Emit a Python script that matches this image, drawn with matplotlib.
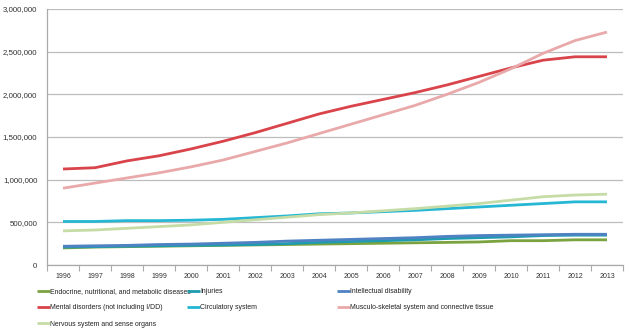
import matplotlib
matplotlib.use("Agg")
import matplotlib.pyplot as plt
from matplotlib.ticker import FuncFormatter, FixedLocator

years = list(range(1996, 2014))

endocrine = [200_000, 210_000, 215_000, 220_000, 225_000, 230_000, 235_000, 240_000, 245_000,
             250_000, 255_000, 260_000, 265_000, 270_000, 285_000, 285_000, 295_000, 295_000]
injuries = [210_000, 215_000, 220_000, 225_000, 230_000, 235_000, 240_000, 250_000, 265_000,
            275_000, 285_000, 295_000, 310_000, 320_000, 330_000, 345_000, 350_000, 350_000]
intellectual = [220_000, 225_000, 230_000, 240_000, 245_000, 255_000, 265_000, 280_000, 290_000,
                300_000, 310_000, 320_000, 335_000, 345_000, 350_000, 355_000, 360_000, 360_000]
mental = [1_125_000, 1_140_000, 1_220_000, 1_280_000, 1_360_000, 1_450_000, 1_550_000, 1_660_000,
          1_770_000, 1_860_000, 1_940_000, 2_020_000, 2_110_000, 2_210_000, 2_310_000, 2_400_000,
          2_440_000, 2_440_000]
circulatory = [510_000, 510_000, 520_000, 520_000, 525_000, 535_000, 555_000, 575_000, 600_000,
               610_000, 625_000, 640_000, 660_000, 680_000, 700_000, 720_000, 740_000, 740_000]
musculo = [900_000, 960_000, 1_020_000, 1_080_000, 1_150_000, 1_230_000, 1_330_000, 1_430_000,
           1_540_000, 1_650_000, 1_760_000, 1_870_000, 2_000_000, 2_140_000, 2_300_000, 2_480_000,
           2_630_000, 2_730_000]
nervous = [400_000, 410_000, 430_000, 450_000, 470_000, 500_000, 530_000, 560_000, 590_000,
           610_000, 635_000, 660_000, 690_000, 720_000, 760_000, 800_000, 820_000, 830_000]

series = [
    ("Endocrine, nutritional, and metabolic diseases", endocrine, "#7aa33f"),
    ("Injuries", injuries, "#1f9bb0"),
    ("Intellectual disability", intellectual, "#4f82c2"),
    ("Mental disorders (not including I/DD)", mental, "#d9444b"),
    ("Circulatory system", circulatory, "#25b7d3"),
    ("Musculo-skeletal system and connective tissue", musculo, "#e9a9aa"),
    ("Nervous system and sense organs", nervous, "#c6dca7"),
]

plt.rcParams["font.family"] = ["Liberation Sans", "DejaVu Sans"]

fig = plt.figure(figsize=(6.3, 3.33), dpi=100)
ax = fig.add_axes([47 / 630, 1 - 265 / 333, 576 / 630, 256 / 333])

x = list(range(len(years)))
lines = {}
for label, vals, color in series:
    (ln,) = ax.plot(x, vals, color=color, linewidth=2.0, label=label, solid_capstyle="butt")
    lines[label] = ln

ax.set_xlim(-0.5, len(years) - 0.5)
ax.set_ylim(0, 3_000_000)
ax.set_yticks(range(0, 3_000_001, 500_000))
ax.yaxis.set_major_formatter(FuncFormatter(lambda v, p: f"{int(v):,}"))
ax.yaxis.grid(True, color="#bdbdbd", linewidth=0.9)
ax.set_axisbelow(True)

ax.set_xticks(x)
ax.set_xticklabels([str(y) for y in years])
ax.xaxis.set_minor_locator(FixedLocator([i - 0.5 for i in range(len(years) + 1)]))
ax.tick_params(axis="x", which="major", length=0, labelsize=5.0, colors="#333333", pad=6)
ax.tick_params(axis="x", which="minor", length=4, color="#aaaaaa", width=0.8)
ax.tick_params(axis="y", length=0, labelsize=5.7, colors="#333333", pad=7)

for s in ("top", "right"):
    ax.spines[s].set_visible(False)
for s in ("left", "bottom"):
    ax.spines[s].set_color("#aaaaaa")
    ax.spines[s].set_linewidth(0.9)

# legend laid out in three equal-width columns, row-major like the original
cols = [
    ["Endocrine, nutritional, and metabolic diseases", "Mental disorders (not including I/DD)",
     "Nervous system and sense organs"],
    ["Injuries", "Circulatory system"],
    ["Intellectual disability", "Musculo-skeletal system and connective tissue"],
]
col_x = [37 / 630, 187 / 630, 337 / 630]
for cx, names in zip(col_x, cols):
    leg = fig.legend([lines[n] for n in names], names, loc="upper left",
                     bbox_to_anchor=(cx, 1 - 288 / 333), frameon=False, fontsize=4.95,
                     handlelength=1.85, handletextpad=0.1, labelspacing=1.35,
                     borderaxespad=0, borderpad=0)
    for t in leg.get_texts():
        t.set_color("#222222")

fig.savefig("out.png", dpi=100)
